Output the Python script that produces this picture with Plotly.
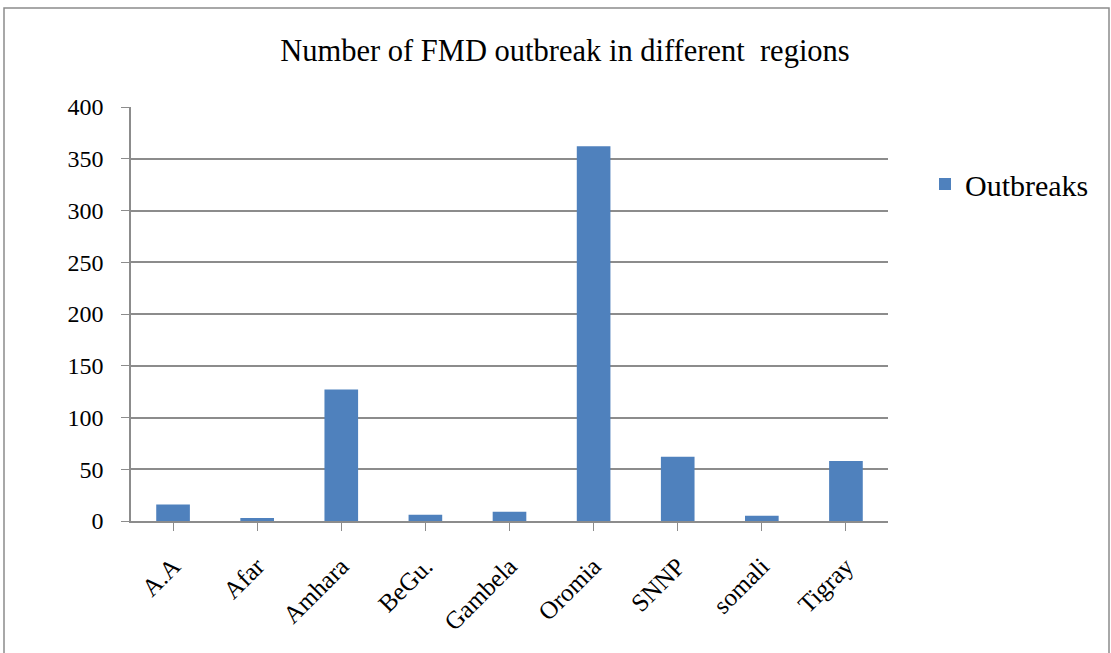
import plotly.graph_objects as go

regions = ["A.A", "Afar", "Amhara", "BeGu.", "Gambela", "Oromia", "SNNP", "somali", "Tigray"]
outbreaks = [16, 3, 127, 6, 9, 362, 62, 5, 58]
y_ticks = [0, 50, 100, 150, 200, 250, 300, 350, 400]

FONT = "Liberation Serif, Times New Roman, serif"

fig = go.Figure()
fig.add_trace(go.Bar(
    x=regions, y=outbreaks, name="Outbreaks",
    marker=dict(color="#4F81BD", line=dict(width=0)),
    showlegend=True,
))

W, H = 1111, 653
L, R, T, B = 131, 223, 107, 132
pw, ph = W - L - R, H - T - B
y0px = H - B

fig.update_layout(
    width=W, height=H,
    margin=dict(l=L, r=R, t=T, b=B),
    paper_bgcolor="white", plot_bgcolor="white",
    font=dict(family=FONT, color="black"),
    bargap=0.6,
    title=dict(text="Number of FMD outbreak in different  regions",
               x=565 / W, xanchor="center", y=1 - 50 / H, yanchor="middle",
               font=dict(size=30.5, family=FONT)),
    legend=dict(x=(925 - L) / pw, y=(y0px - 184) / ph, xanchor="left", yanchor="middle",
                font=dict(size=30, family=FONT), bgcolor="rgba(0,0,0,0)"),
    xaxis=dict(showline=True, linecolor="#8c8c8c", linewidth=1.5,
               ticks="outside", ticklen=8, tickcolor="#8c8c8c",
               tickangle=-45, tickfont=dict(size=25, family=FONT),
               ticklabelstandoff=11, showgrid=False),
    yaxis=dict(range=[0, 400], tickvals=y_ticks, showline=True, linecolor="#8c8c8c",
               linewidth=1.5, ticks="outside", ticklen=8, tickcolor="#8c8c8c",
               ticklabelstandoff=13,
               showgrid=True, gridcolor="#8c8c8c", gridwidth=1.5,
               tickfont=dict(size=24, family=FONT), zeroline=False),
)

fig.add_shape(type="rect", xref="paper", yref="paper",
              x0=(4 - L) / pw, x1=(1109 - L) / pw,
              y0=(y0px - 700) / ph, y1=(y0px - 8) / ph,
              line=dict(color="#8c8c8c", width=1.5), fillcolor="rgba(0,0,0,0)", layer="below")

fig.write_html("out.html", config={"displayModeBar": False},
               post_script="document.body.style.margin='0';")
